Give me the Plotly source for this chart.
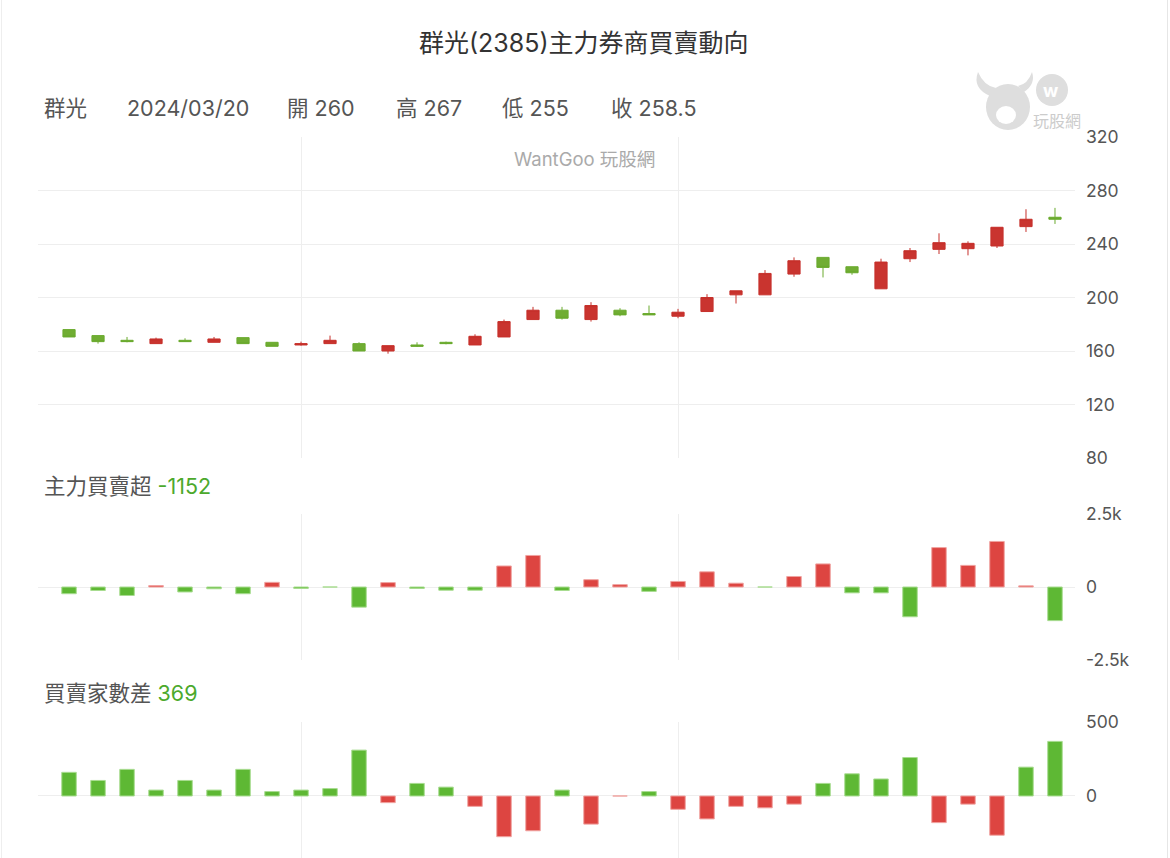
import plotly.graph_objects as go

# ---------------- data ----------------
dates = [
    "2024/01/22", "2024/01/23", "2024/01/24", "2024/01/25", "2024/01/26",
    "2024/01/29", "2024/01/30", "2024/01/31", "2024/02/01", "2024/02/02",
    "2024/02/05", "2024/02/15", "2024/02/16", "2024/02/19", "2024/02/20",
    "2024/02/21", "2024/02/22", "2024/02/23", "2024/02/26", "2024/02/27",
    "2024/02/29", "2024/03/01", "2024/03/04", "2024/03/05", "2024/03/06",
    "2024/03/07", "2024/03/08", "2024/03/11", "2024/03/12", "2024/03/13",
    "2024/03/14", "2024/03/15", "2024/03/18", "2024/03/19", "2024/03/20",
]
open_ = [176, 171.5, 168, 165.5, 168, 166.5, 170, 166.5, 164.5, 165.5,
         165.5, 160, 164.5, 166.5, 164.5, 170.5, 183.5, 190.5, 183.5, 190.5,
         188, 186, 189.5, 202, 202, 217.5, 230, 223, 206.5, 229,
         236, 236.5, 238.5, 253, 260]
high = [176, 171.5, 170.5, 170, 169.5, 170.5, 170, 166.5, 167, 171.5,
        166.5, 164, 166.5, 167, 172.5, 183.5, 193, 193, 196.5, 192,
        194, 191.5, 202.5, 205, 220.5, 230, 230, 223, 229, 237,
        248, 242, 252.5, 266, 267]
low = [170.5, 165.5, 166.5, 165.5, 167, 166.5, 165.5, 163.5, 164, 165.5,
       160, 158, 163, 165, 164.5, 170.5, 183.5, 183.5, 182, 186,
       187, 184.5, 189.5, 195.5, 202, 215.5, 215, 217, 206.5, 226.5,
       232.5, 231.5, 237, 249, 255]
close = [170.5, 167, 167, 169, 167, 169, 165.5, 163.5, 165.5, 168,
         160, 164, 163.5, 165.5, 171, 182, 190.5, 184.5, 194, 187,
         187, 189, 200, 205, 218, 227.5, 222.5, 218.5, 226.5, 235,
         241, 240.5, 252.5, 258.5, 258.5]
main_force = [-230, -120, -290, 50, -170, -60, -230, 160, -50, 0,
              -690, 150, -50, -110, -110, 720, 1080, -120, 250, 80,
              -150, 190, 520, 130, 0, 360, 790, -200, -200, -1020,
              1350, 740, 1560, 40, -1152]
broker_diff = [160, 105, 180, 40, 105, 40, 180, 30, 40, 50,
               310, -45, 85, 60, -70, -275, -235, 40, -190, 0,
               30, -90, -155, -70, -80, -55, 85, 150, 115, 260,
               -180, -55, -265, 195, 369]
month_starts = ["2024/02/01", "2024/03/01"]
stock_name = "群光"
stock_code = "2385"
price_ticks = [80, 120, 160, 200, 240, 280, 320]
mf_ticks = [-2500, 0, 2500]
mf_ticktext = ["-2.5k", "0", "2.5k"]
bd_ticks = [-500, 0, 500]

# ---------------- styling helpers ----------------
W, H = 1170, 858
RED_C, GREEN_C = "#c6302b", "#6aaa2e"
RED_B, GREEN_B = "#dd4541", "#5eb834"
GRID = "#eeeeee"
FONT = "Inter, Liberation Sans, Noto Sans CJK TC, sans-serif"
TICKF = dict(family=FONT, size=17.5, color="#555555")


def px(x):
    return x / W


def py(y):
    return 1 - y / H


x_dom = [px(38), px(1075)]
xrange_ = [-1.07, 34.69]

fig = go.Figure()

fig.add_trace(go.Candlestick(
    x=dates, open=open_, high=high, low=low, close=close,
    increasing=dict(line=dict(color=RED_C, width=1), fillcolor="#c9342f"),
    decreasing=dict(line=dict(color=GREEN_C, width=1), fillcolor="#70ad33"),
    whiskerwidth=0, xaxis="x", yaxis="y", showlegend=False,
    hoverinfo="skip",
))

mf_colors = [RED_B if v > 0 else GREEN_B for v in main_force]
mf_lines = ["#f0a3a0" if v > 0 else "#a8dc90" for v in main_force]
fig.add_trace(go.Bar(
    x=dates, y=main_force, marker=dict(color=mf_colors, line=dict(color=mf_lines, width=1)),
    xaxis="x2", yaxis="y2", showlegend=False, hoverinfo="skip",
))

bd_colors = [GREEN_B if v > 0 else RED_B for v in broker_diff]
bd_lines = ["#a8dc90" if v > 0 else "#f0a3a0" for v in broker_diff]
fig.add_trace(go.Bar(
    x=dates, y=broker_diff, marker=dict(color=bd_colors, line=dict(color=bd_lines, width=1)),
    xaxis="x3", yaxis="y3", showlegend=False, hoverinfo="skip",
))

xcommon = dict(type="category", categoryorder="array", categoryarray=dates,
               range=xrange_, domain=x_dom, tickmode="array", tickvals=month_starts,
               showticklabels=False, ticks="", showgrid=True, gridcolor=GRID,
               gridwidth=1, zeroline=False, showline=False, fixedrange=True,
               automargin=False)

ycommon = dict(side="right", showgrid=True, gridcolor=GRID, gridwidth=1,
               zeroline=False, showline=False, ticks="", tickfont=TICKF,
               ticklabelstandoff=10, fixedrange=True, automargin=False)

fig.update_layout(
    width=W, height=H, autosize=False,
    margin=dict(l=0, r=0, t=0, b=0, pad=0, autoexpand=False),
    paper_bgcolor="white", plot_bgcolor="white",
    boxgap=0.4, bargap=0.5,
    font=dict(family=FONT, color="#555555"),
    xaxis=dict(**xcommon, anchor="y", rangeslider=dict(visible=False)),
    xaxis2=dict(**xcommon, anchor="y2"),
    xaxis3=dict(**xcommon, anchor="y3"),
    yaxis=dict(**ycommon, anchor="x", domain=[py(458), py(137)], range=[80, 320],
               tickmode="array", tickvals=price_ticks),
    yaxis2=dict(**ycommon, anchor="x2", domain=[py(660), py(514)], range=[-2500, 2500],
                tickmode="array", tickvals=mf_ticks, ticktext=mf_ticktext),
    yaxis3=dict(**ycommon, anchor="x3", domain=[0, py(722)], range=[-419, 500],
                tickmode="array", tickvals=bd_ticks),
    showlegend=False,
)

ann = []
# Title
ann.append(dict(x=px(584), y=py(43), xref="paper", yref="paper",
                text=f"{stock_name}({stock_code})主力券商買賣動向", showarrow=False,
                font=dict(family=FONT, size=25, color="#333333"),
                xanchor="center", yanchor="middle"))
# Header row (latest candle)
last = len(dates) - 1


def fmt(v):
    return f"{v:g}"


header = [
    (42, stock_name),
    (125, dates[last]),
    (285, f"開 {fmt(open_[last])}"),
    (394, f"高 {fmt(high[last])}"),
    (500, f"低 {fmt(low[last])}"),
    (609, f"收 {fmt(close[last])}"),
]
for xx, t in header:
    ann.append(dict(x=px(xx), y=py(108), xref="paper", yref="paper", text=t,
                    showarrow=False, font=dict(family=FONT, size=21.5, color="#555555"),
                    xanchor="left", yanchor="middle"))
# Sub-panel labels
ann.append(dict(x=px(42), y=py(486), xref="paper", yref="paper",
                text=f"主力買賣超 <span style='color:#4ca92c'>{main_force[last]}</span>",
                showarrow=False, font=dict(family=FONT, size=21.5, color="#555555"),
                xanchor="left", yanchor="middle"))
ann.append(dict(x=px(42), y=py(693), xref="paper", yref="paper",
                text=f"買賣家數差 <span style='color:#4ca92c'>{broker_diff[last]}</span>",
                showarrow=False, font=dict(family=FONT, size=21.5, color="#555555"),
                xanchor="left", yanchor="middle"))
# Watermark
ann.append(dict(x=px(584), y=py(159), xref="paper", yref="paper",
                text="WantGoo 玩股網", showarrow=False,
                font=dict(family=FONT, size=18.5, color="#aaaaaa"),
                xanchor="center", yanchor="middle"))
# Logo text
ann.append(dict(x=px(1057), y=py(121), xref="paper", yref="paper",
                text="玩股網", showarrow=False,
                font=dict(family=FONT, size=16, color="#cccccc"),
                xanchor="center", yanchor="middle"))
ann.append(dict(x=px(1051), y=py(90), xref="paper", yref="paper",
                text="<b>w</b>", showarrow=False,
                font=dict(family=FONT, size=18, color="#ffffff"),
                xanchor="center", yanchor="middle"))
fig.update_layout(annotations=ann)

LOGO = "#dedede"
shapes = [
    dict(type="circle", xref="paper", yref="paper", x0=px(986), x1=px(1030),
         y0=py(130), y1=py(84), fillcolor=LOGO, line=dict(width=0), layer="above"),
    dict(type="path", xref="paper", yref="paper",
         path=f"M {px(990)} {py(96)} Q {px(972)} {py(88)} {px(978)} {py(72)} "
              f"Q {px(984)} {py(86)} {px(996)} {py(88)} Z",
         fillcolor=LOGO, line=dict(width=0), layer="above"),
    dict(type="path", xref="paper", yref="paper",
         path=f"M {px(1024)} {py(92)} Q {px(1036)} {py(84)} {px(1032)} {py(72)} "
              f"Q {px(1028)} {py(84)} {px(1018)} {py(86)} Z",
         fillcolor=LOGO, line=dict(width=0), layer="above"),
    dict(type="circle", xref="paper", yref="paper", x0=px(996), x1=px(1016),
         y0=py(124), y1=py(106), fillcolor="#ffffff", line=dict(width=0), layer="above"),
    dict(type="circle", xref="paper", yref="paper", x0=px(1036), x1=px(1068),
         y0=py(106), y1=py(74), fillcolor=LOGO, line=dict(width=0), layer="above"),
    dict(type="line", xref="paper", yref="paper", x0=px(1167.5), x1=px(1167.5),
         y0=0, y1=1, line=dict(color="#e6e6e6", width=1)),
    dict(type="line", xref="paper", yref="paper", x0=px(1.5), x1=px(1.5),
         y0=0, y1=1, line=dict(color="#eeeeee", width=1)),
]
fig.update_layout(shapes=shapes)

fig.write_html("out.html")
